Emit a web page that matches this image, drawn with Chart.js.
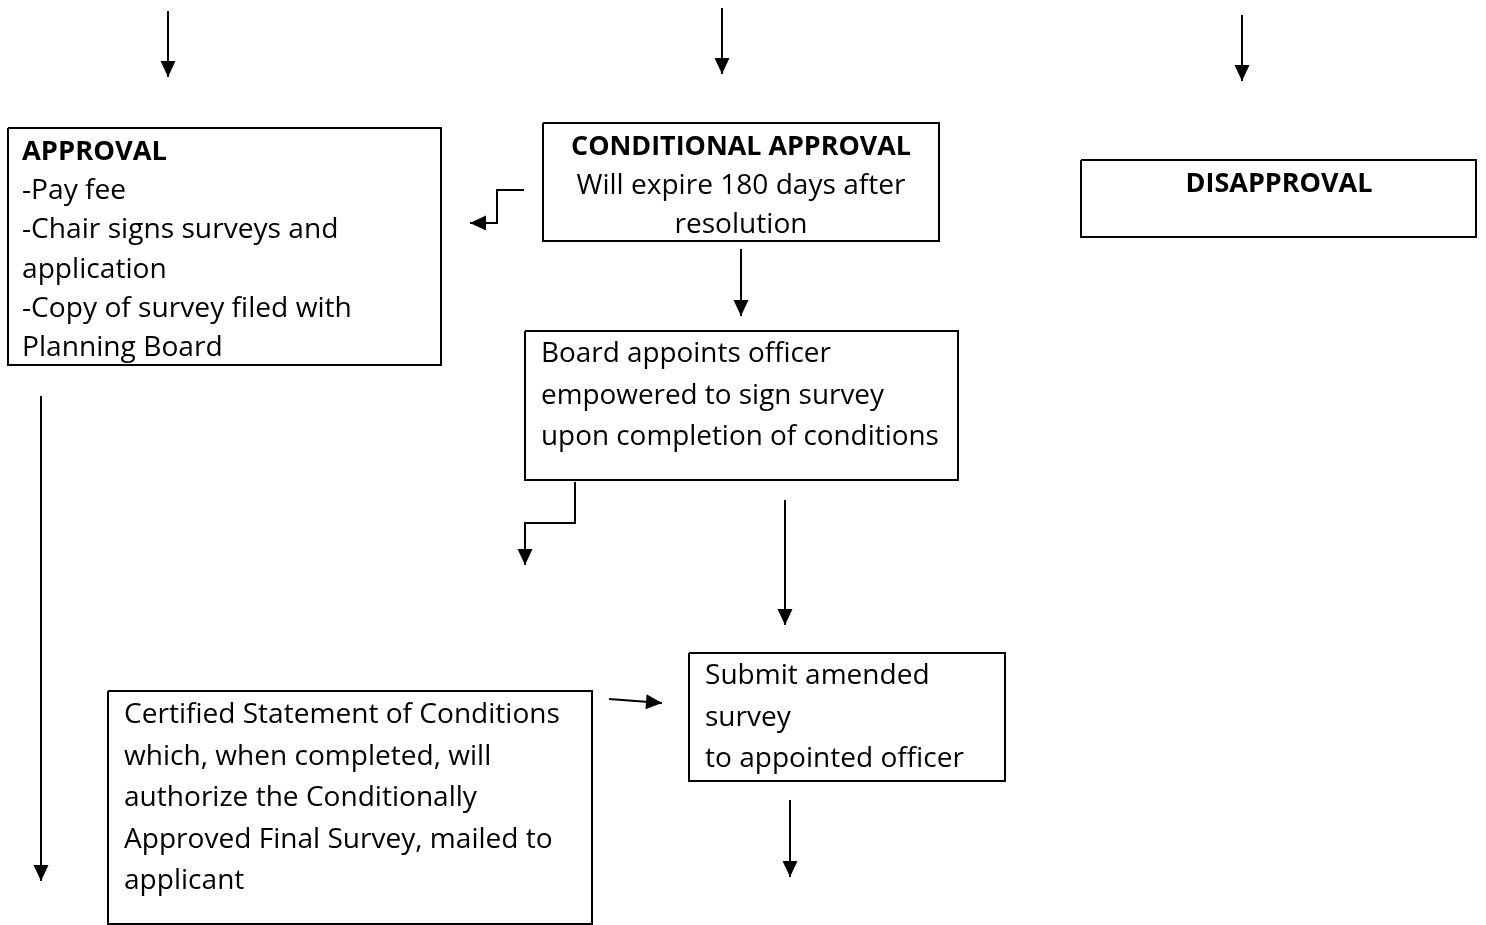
<!DOCTYPE html>
<html>
<head>
<meta charset="utf-8">
<script src="https://cdn.jsdelivr.net/npm/chart.js@4/dist/chart.umd.min.js"></script>
<style>
html,body{margin:0;padding:0;background:#ffffff;overflow:hidden;}
canvas{display:block;}
</style>
</head>
<body>
<canvas id="flow" width="1486" height="925"></canvas>
<script>
// ---- Flowchart content (diagram units = page pixels) ----
const boxLeft   = [8,   543, 1081, 525, 689, 108];
const boxTop    = [128, 123, 160,  331, 653, 691];
const boxRight  = [441, 939, 1476, 958, 1005, 592];
const boxBottom = [365, 241, 237,  480, 781, 924];

const boxLines = [
  ['APPROVAL', '-Pay fee', '-Chair signs surveys and', 'application', '-Copy of survey filed with', 'Planning Board'],
  ['CONDITIONAL APPROVAL', 'Will expire 180 days after', 'resolution'],
  ['DISAPPROVAL'],
  ['Board appoints officer', 'empowered to sign survey', 'upon completion of conditions'],
  ['Submit amended', 'survey', 'to appointed officer'],
  ['Certified Statement of Conditions', 'which, when completed, will', 'authorize the Conditionally', 'Approved Final Survey, mailed to', 'applicant']
];
const boldFirstLine = [true, true, true, false, false, false];
const textAlign     = ['left', 'center', 'center', 'left', 'left', 'left'];
const textX         = [22, 741, 1279, 541, 705, 124];
const firstBaseline = [160, 155, 192, 362, 684, 723];
const lineStep      = [39.2, 39, 0, 41.5, 41.5, 41.6];
// regular line used to size each box's font, and its width on the page
const fitLine       = [4, 1, 0, 2, 2, 0];
const fitWidth      = [330, 329, 0, 398, 259, 436];
// width of each bold heading on the page
const boldWidth     = [145, 340, 187, 0, 0, 0];

const arrowPaths = [
  [[168, 11], [168, 77]],
  [[722, 8], [722, 74]],
  [[1242, 15], [1242, 81]],
  [[524, 190], [497, 190], [497, 223], [470, 223]],
  [[741, 249], [741, 316]],
  [[41, 396], [41, 881]],
  [[575, 482], [575, 523], [525, 523], [525, 565]],
  [[785, 500], [785, 625]],
  [[609, 699], [662, 703]],
  [[790, 800], [790, 877]]
];

// ---- Build datasets from the arrays ----
const datasets = [];
for (let i = 0; i < boxLeft.length; i++) {
  datasets.push({
    data: [
      {x: boxLeft[i], y: boxTop[i]},
      {x: boxRight[i], y: boxTop[i]},
      {x: boxRight[i], y: boxBottom[i]},
      {x: boxLeft[i], y: boxBottom[i]},
      {x: boxLeft[i], y: boxTop[i]}
    ],
    borderColor: '#000000', borderWidth: 2, showLine: true,
    pointRadius: 0, tension: 0, fill: false, borderJoinStyle: 'miter'
  });
}
for (const path of arrowPaths) {
  datasets.push({
    data: path.map(p => ({x: p[0], y: p[1]})),
    borderColor: '#000000', borderWidth: 2, showLine: true,
    pointRadius: 0, tension: 0, fill: false, borderJoinStyle: 'miter'
  });
}

const FONT = '"Open Sans", "Noto Sans", sans-serif';

const arrowHeads = {
  id: 'arrowHeads',
  afterDatasetsDraw(chart) {
    const {ctx, scales: {x, y}} = chart;
    ctx.save();
    ctx.fillStyle = '#000000';
    for (const path of arrowPaths) {
      const n = path.length;
      const tx = x.getPixelForValue(path[n-1][0]);
      const ty = y.getPixelForValue(path[n-1][1]);
      const sx = x.getPixelForValue(path[n-2][0]);
      const sy = y.getPixelForValue(path[n-2][1]);
      const ang = Math.atan2(ty - sy, tx - sx);
      const len = 16, half = 7.5;
      const bx = tx - len * Math.cos(ang), by = ty - len * Math.sin(ang);
      ctx.beginPath();
      ctx.moveTo(tx, ty);
      ctx.lineTo(bx + half * Math.sin(ang), by - half * Math.cos(ang));
      ctx.lineTo(bx - half * Math.sin(ang), by + half * Math.cos(ang));
      ctx.closePath();
      ctx.fill();
    }
    ctx.restore();
  }
};

function fitSize(ctx, text, bold, width) {
  ctx.font = (bold ? 'bold ' : '') + '100px ' + FONT;
  return (100 * width / ctx.measureText(text).width).toFixed(2);
}

const boxTexts = {
  id: 'boxTexts',
  afterDraw(chart) {
    const {ctx, scales: {x, y}} = chart;
    ctx.save();
    ctx.fillStyle = '#000000';
    ctx.textBaseline = 'alphabetic';
    for (let i = 0; i < boxLines.length; i++) {
      const lines = boxLines[i];
      const regSize = fitWidth[i] ? fitSize(ctx, lines[fitLine[i]], false, fitWidth[i]) : 0;
      const boldSize = boldFirstLine[i] ? fitSize(ctx, lines[0], true, boldWidth[i]) : 0;
      ctx.textAlign = textAlign[i];
      lines.forEach((line, j) => {
        const bold = boldFirstLine[i] && j === 0;
        ctx.font = bold ? ('bold ' + boldSize + 'px ' + FONT) : (regSize + 'px ' + FONT);
        ctx.fillText(line, x.getPixelForValue(textX[i]), y.getPixelForValue(firstBaseline[i] + j * lineStep[i]));
      });
    }
    ctx.restore();
  }
};

new Chart(document.getElementById('flow'), {
  type: 'scatter',
  data: {datasets},
  options: {
    responsive: false,
    animation: false,
    events: [],
    layout: {padding: 0},
    plugins: {legend: {display: false}, tooltip: {enabled: false}},
    scales: {
      x: {type: 'linear', min: 0, max: 1486, display: false},
      y: {type: 'linear', min: 0, max: 925, reverse: true, display: false}
    }
  },
  plugins: [arrowHeads, boxTexts]
});
</script>
</body>
</html>
